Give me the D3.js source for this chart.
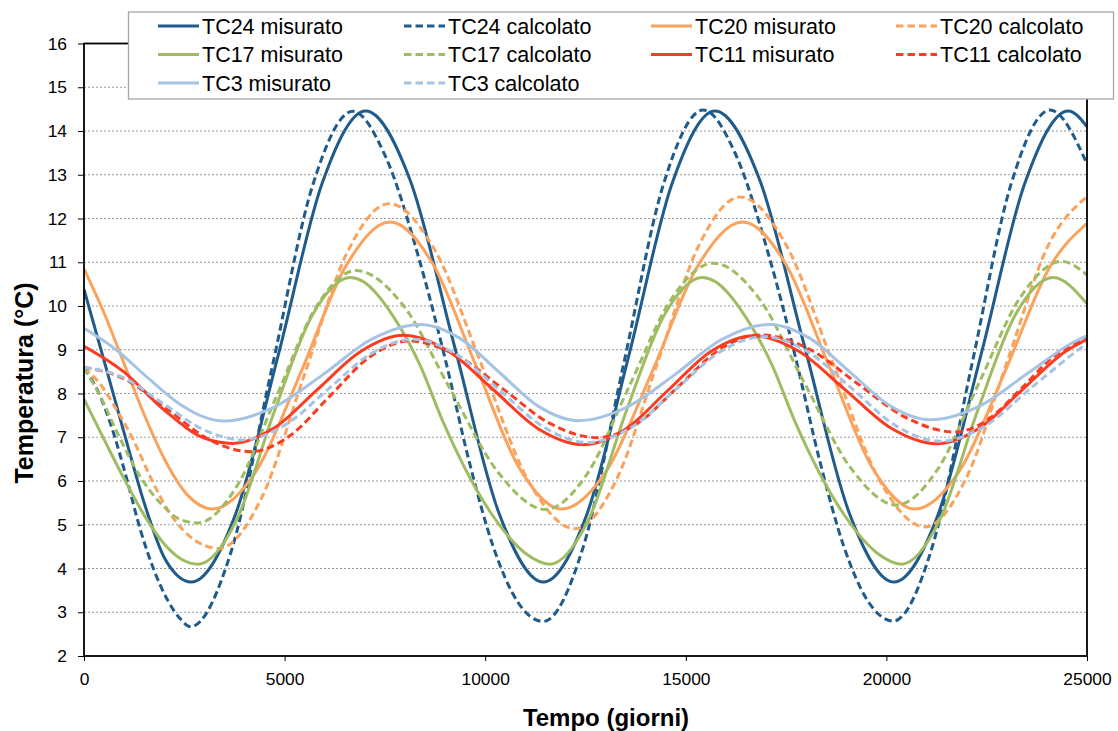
<!DOCTYPE html>
<html><head><meta charset="utf-8">
<script src="https://cdn.jsdelivr.net/npm/d3@7"></script>
<style>
html,body{margin:0;padding:0;background:#fff;}
svg{display:block;font-family:"Liberation Sans",Arial,Helvetica,sans-serif;}
</style></head><body>
<svg id="chart" width="1118" height="731"></svg>
<script>
// ---------- data (day, temperature °C) ----------
const xTicks = [0, 5000, 10000, 15000, 20000, 25000];
const yTicks = [2,3,4,5,6,7,8,9,10,11,12,13,14,15,16];
const seriesNames = ["TC24 misurato","TC24 calcolato","TC20 misurato","TC20 calcolato",
  "TC17 misurato","TC17 calcolato","TC11 misurato","TC11 calcolato","TC3 misurato","TC3 calcolato"];

const tc24Mis = [[0,10.38],[500,8.75],[1000,7.1],[1500,5.5],[2000,4.25],[2350,3.82],[2675,3.69],
 [3761,5.2],[4848,8.9],[5934,12.8],[7020,14.46],
 [8127,12.88],[9235,9.08],[10342,5.27],[11449,3.69],
 [12519,5.2],[13589,8.9],[14658,12.8],[15728,14.46],
 [16843,12.88],[17959,9.08],[19074,5.27],[20189,3.69],
 [21275,5.2],[22362,8.9],[23448,12.8],[24534,14.46],[25000,14.1]];
const tc24Calc = [[0,8.58],[350,8.05],[700,7.2],[1050,6.1],[1400,4.9],[1750,3.95],[2100,3.25],[2400,2.85],[2658,2.67],
 [3668,4.39],[4679,8.56],[5690,12.73],[6700,14.45],
 [7500,13.45],[8375,11.0],[9000,8.8],[9600,6.45],[10200,4.5],[10800,3.25],[11449,2.79],
 [12446,4.5],[13443,8.64],[14439,12.77],[15436,14.48],
 [16236,13.48],[17111,11.02],[17736,8.82],[18336,6.47],[18936,4.51],[19536,3.26],[20172,2.8],
 [21148,4.51],[22125,8.64],[23102,12.77],[24078,14.48],[25000,13.25]];
const tc20Mis = [[0,10.85],[500,9.84],[1000,8.68],[1500,7.52],[2000,6.51],[2600,5.66],[3199,5.36],
 [4306,6.25],[5413,8.5],[6520,10.9],[7627,11.92],
 [8697,10.96],[9767,8.64],[10836,6.32],[11906,5.36],
 [13034,6.25],[14162,8.5],[15289,10.9],[16417,11.92],
 [17491,10.96],[18565,8.64],[19638,6.32],[20712,5.36],
 [21834,6.25],[22956,8.5],[24078,10.9],[25000,11.89]];
const tc20Calc = [[0,8.58],[400,8.22],[830,7.6],[1250,6.9],[1660,6.08],[2080,5.35],[2500,4.85],[2950,4.55],[3365,4.46],
 [4424,5.61],[5484,8.4],[6543,11.19],[7602,12.34],
 [8761,11.25],[9920,8.63],[11079,6.0],[12238,4.91],
 [13266,6.02],[14295,8.7],[15323,11.38],[16351,12.49],
 [17504,11.39],[18657,8.72],[19809,6.05],[20962,4.95],
 [21987,6.06],[23011,8.73],[24036,11.39],[25000,12.5]];
const tc17Mis = [[0,7.87],[500,6.95],[1000,6.05],[1500,5.22],[2000,4.56],[2450,4.2],[2850,4.1],
 [3799,5.1],[4748,7.6],[5697,9.8],[6646,10.65],
 [7888,9.5],[8375,8.65],[8950,7.35],[10194,5.2],[11000,4.35],[11615,4.1],
 [12566,5.1],[13518,7.6],[14469,9.8],[15420,10.65],
 [16662,9.5],[17150,8.65],[17724,7.35],[18968,5.2],[19774,4.35],[20380,4.1],
 [21325,5.1],[22270,7.6],[23215,9.8],[24160,10.65],[25000,10.05]];
const tc17Calc = [[0,8.58],[400,7.95],[830,7.1],[1400,6.1],[1900,5.5],[2400,5.12],[2825,5.04],
 [3810,5.88],[4795,7.93],[5780,9.97],[6780,10.81],
 [7960,10.01],[9140,8.08],[10320,6.2],[11500,5.35],
 [12547,6.17],[13593,8.17],[14640,10.16],[15686,10.98],
 [16827,10.17],[17968,8.22],[19109,6.3],[20250,5.45],
 [21280,6.27],[22309,8.24],[23339,10.2],[24368,11.02],[25000,10.71]];
const tc11Mis = [[0,9.08],[1000,8.49],[2000,7.62],[3000,6.98],[3700,6.86],
 [4736,7.21],[5816,8.09],[6896,8.96],[7950,9.33],
 [9094,8.96],[10211,8.08],[11329,7.19],[12446,6.83],
 [13505,7.19],[14565,8.08],[15624,8.96],[16683,9.32],
 [17826,8.96],[18968,8.09],[20111,7.21],[21253,6.85],
 [22323,7.21],[23393,8.09],[24463,8.96],[25000,9.24]];
const tc11Calc = [[0,8.6],[1038,8.32],[2077,7.64],[3115,6.95],[4154,6.67],
 [5141,7.04],[6127,7.94],[7114,8.83],[8100,9.2],
 [9275,8.88],[10450,8.1],[11625,7.31],[12800,6.99],
 [13813,7.33],[14825,8.17],[15838,9.0],[16850,9.34],
 [18063,9.02],[19275,8.23],[20488,7.45],[21700,7.12],
 [22525,7.4],[23350,8.1],[24175,8.85],[25000,9.25]];
const tc3Mis = [[0,9.49],[800,9.0],[1600,8.35],[2400,7.75],[3000,7.46],[3480,7.37],
 [4715,7.68],[5940,8.42],[7166,9.24],[8380,9.58],
 [9374,9.26],[10356,8.48],[11339,7.7],[12321,7.38],
 [13515,7.68],[14710,8.42],[15904,9.24],[17098,9.58],
 [18095,9.26],[19092,8.49],[20089,7.72],[21086,7.4],
 [22296,7.7],[23506,8.45],[24716,9.2],[25000,9.32]];
const tc3Calc = [[0,8.6],[988,8.36],[1975,7.77],[2963,7.18],[3950,6.94],
 [5013,7.28],[6075,8.09],[7138,8.9],[8200,9.24],
 [9288,8.89],[10375,8.06],[11463,7.23],[12550,6.88],
 [13650,7.23],[14750,8.09],[15850,8.95],[16950,9.3],
 [18047,8.95],[19143,8.11],[20240,7.26],[21336,6.91],
 [22461,7.26],[23586,8.11],[24711,8.95],[25000,9.15]];

const seriesData = [tc24Mis, tc24Calc, tc20Mis, tc20Calc, tc17Mis, tc17Calc, tc11Mis, tc11Calc, tc3Mis, tc3Calc];
const seriesColors = ["#1F5B8B","#1F5B8B","#FBA25C","#FBA25C","#A0BC62","#A0BC62","#FA3C23","#FA3C23","#A5C4E3","#A5C4E3"];
const seriesDashed = [false,true,false,true,false,true,false,true,false,true];

// ---------- layout ----------
const m = {left:84, right:1087, top:43.5, bottom:656};
const x = d3.scaleLinear().domain([0,25000]).range([m.left, m.right]);
const y = d3.scaleLinear().domain([2,16]).range([m.bottom, m.top]);
const svg = d3.select('#chart');

// gridlines
svg.append('g').selectAll('line').data(yTicks.filter(t => t > 2 && t < 16)).join('line')
  .attr('x1', m.left).attr('x2', m.right)
  .attr('y1', d => y(d)).attr('y2', d => y(d))
  .attr('stroke', '#9a9a9a').attr('stroke-width', 1).attr('stroke-dasharray', '2,2');

svg.append('clipPath').attr('id','clip').append('rect')
  .attr('x', m.left).attr('y', m.top).attr('width', m.right - m.left).attr('height', m.bottom - m.top);

const line = d3.line().x(d => x(d[0])).y(d => y(d[1])).curve(d3.curveMonotoneX);
const gLines = svg.append('g').attr('clip-path','url(#clip)');
seriesData.forEach((s, i) => {
  gLines.append('path').attr('d', line(s))
    .attr('fill','none').attr('stroke', seriesColors[i]).attr('stroke-width', 3)
    .attr('stroke-dasharray', seriesDashed[i] ? '7.5,4' : null)
    .attr('stroke-linejoin','round');
});

// frame
svg.append('rect').attr('x', m.left).attr('y', m.top).attr('width', m.right - m.left).attr('height', m.bottom - m.top)
  .attr('fill','none').attr('stroke','#000').attr('stroke-width',1.8);

// axes
const yAxis = d3.axisLeft(y).tickValues(yTicks).tickSize(6).tickPadding(11).tickFormat(d3.format('d'));
const gy = svg.append('g').attr('transform', `translate(${m.left},0)`).call(yAxis);
gy.select('.domain').remove();
gy.selectAll('line').attr('stroke','#000').attr('stroke-width',1);
gy.selectAll('text').attr('font-size','17.4px').attr('fill','#000').style('font-family','"Liberation Sans",Arial,sans-serif');

const xAxis = d3.axisBottom(x).tickValues(xTicks).tickSize(5).tickPadding(12).tickFormat(d3.format('d'));
const gx = svg.append('g').attr('transform', `translate(0,${m.bottom})`).call(xAxis);
gx.select('.domain').remove();
gx.selectAll('line').attr('stroke','#000').attr('stroke-width',1);
gx.selectAll('text').attr('font-size','17.4px').attr('fill','#000').style('font-family','"Liberation Sans",Arial,sans-serif');

// titles
svg.append('text').attr('x', 606).attr('y', 726).attr('text-anchor','middle')
  .attr('font-size','24px').attr('font-weight','bold').text('Tempo (giorni)');
svg.append('text').attr('transform','translate(33,383) rotate(-90)').attr('text-anchor','middle')
  .attr('font-size','25px').attr('font-weight','bold').text('Temperatura (°C)');

// legend
const legX = [158, 404, 651, 896];
const legRowY = [26, 54.5, 83];
const leg = svg.append('g');
leg.append('rect').attr('x',128.5).attr('y',12).attr('width',985).attr('height',87)
  .attr('fill','#fff').attr('stroke','#a6a6a6').attr('stroke-width',1.3);
seriesNames.forEach((name, i) => {
  const cx = legX[i % 4], cy = legRowY[Math.floor(i / 4)];
  leg.append('line').attr('x1', cx).attr('x2', cx + 41).attr('y1', cy).attr('y2', cy)
    .attr('stroke', seriesColors[i]).attr('stroke-width', 3)
    .attr('stroke-dasharray', seriesDashed[i] ? '7.5,4' : null);
  leg.append('text').attr('x', cx + 44).attr('y', cy + 7.7).attr('font-size','21.5px').attr('fill','#000').text(name);
});
</script>
</body></html>
